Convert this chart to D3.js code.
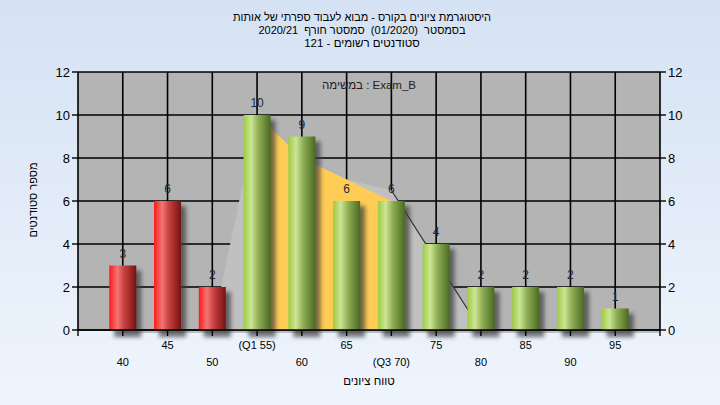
<!DOCTYPE html>
<html><head><meta charset="utf-8">
<script src="https://cdn.jsdelivr.net/npm/d3@7"></script>
<style>
html,body{margin:0;padding:0;}
svg{display:block;font-family:"Liberation Sans","DejaVu Sans",Arial,sans-serif;}
text{white-space:pre;}
</style></head>
<body>
<svg id="c" width="720" height="405"></svg>
<script>
// ---- data ----
const categories = [40,45,50,55,60,65,70,75,80,85,90,95];
const counts = [3,6,2,10,9,6,6,4,2,2,2,1];
const tickLabels = ["40","45","50","(Q1 55)","60","65","(Q3 70)","75","80","85","90","95"];
const q1 = 55, q3 = 70;
const iqrX = [55,60,65,70];
const iqrY = [10,8,7,6];
const spreadX = [50,55,60,65,70,80];
const spreadY = [0,10,8,7,6.5,0];
const yTicks = [0,2,4,6,8,10,12];
const gridX = [35,40,45,50,55,60,65,70,75,80,85,90,95,100];
const titleLines = ["היסטוגרמת ציונים בקורס - מבוא לעבוד ספרתי של אותות",
                    "בסמסטר  (01/2020)  סמסטר חורף  2020/21",
                    "סטודנטים רשומים - 121"];
const titleSizes = [11, 11, 11.5];
const taskLabel = "במשימה : Exam_B";
const xTitle = "טווח ציונים";
const yTitle = "מספר סטודנטים";

// ---- layout ----
const svg = d3.select("#c");
const L = 78, R = 660, T = 72, B = 330;
const x = d3.scaleLinear().domain([35,100]).range([L,R]);
const y = d3.scaleLinear().domain([0,12]).range([B,T]);
const bw = 27;

const defs = svg.append("defs");
const bg = defs.append("linearGradient").attr("id","bg").attr("x1",0).attr("y1",0).attr("x2",0).attr("y2",1);
bg.append("stop").attr("offset","0%").attr("stop-color","#d5e2f3");
bg.append("stop").attr("offset","100%").attr("stop-color","#eff5fd");
const red = defs.append("linearGradient").attr("id","red");
[["0%","#ff1818"],["30%","#f27676"],["55%","#c84040"],["100%","#761212"]].forEach(s=>red.append("stop").attr("offset",s[0]).attr("stop-color",s[1]));
const green = defs.append("linearGradient").attr("id","green");
[["0%","#9ccc42"],["28%","#cde594"],["55%","#8fae55"],["100%","#4a6a22"]].forEach(s=>green.append("stop").attr("offset",s[0]).attr("stop-color",s[1]));
const f = defs.append("filter").attr("id","blur").attr("x","-30%").attr("y","-30%").attr("width","160%").attr("height","160%");
f.append("feGaussianBlur").attr("stdDeviation",2);

svg.append("rect").attr("width",720).attr("height",405).attr("fill","url(#bg)");
svg.append("rect").attr("x",L).attr("y",T).attr("width",R-L).attr("height",B-T).attr("fill","#b4b4b4");

// grid
svg.append("g").selectAll("line").data(yTicks).join("line")
  .attr("x1",L).attr("x2",R).attr("y1",d=>y(d)).attr("y2",d=>y(d))
  .attr("stroke","#000").attr("stroke-width",1.6);
svg.append("g").selectAll("line").data(gridX).join("line")
  .attr("x1",d=>x(d)).attr("x2",d=>x(d)).attr("y1",T).attr("y2",B)
  .attr("stroke","#000").attr("stroke-width",1.6);

// spread area (light) and IQR area (yellow)
const spread = spreadX.map((v,i)=>[v,spreadY[i]]);
svg.append("path").datum(spread)
  .attr("d",d3.area().x(d=>x(d[0])).y0(y(0)).y1(d=>y(d[1])))
  .attr("fill","#c0c0c0");
svg.append("path").datum(spread.slice(-2))
  .attr("d",d3.line().x(d=>x(d[0])).y(d=>y(d[1])))
  .attr("stroke","#333").attr("stroke-width",1.2).attr("fill","none");
const iqr = iqrX.map((v,i)=>[v,iqrY[i]]);
svg.append("path").datum(iqr)
  .attr("d",d3.area().x(d=>x(d[0])).y0(y(0)).y1(d=>y(d[1])))
  .attr("fill","#ffcc55");

// baseline shadow line
svg.append("line").attr("x1",x(40)).attr("x2",R).attr("y1",B+2).attr("y2",B+2).attr("stroke","#8a8a8a").attr("stroke-width",1);

// bar shadows
svg.append("g").selectAll("rect").data(counts).join("rect")
  .attr("x",(d,i)=>x(categories[i])-bw/2+5).attr("y",d=>y(d)+5)
  .attr("width",bw).attr("height",d=>B-y(d)+2)
  .attr("fill","#3a3a3a").attr("opacity",0.7).attr("filter","url(#blur)");
// bars
svg.append("g").selectAll("rect").data(counts).join("rect")
  .attr("x",(d,i)=>x(categories[i])-bw/2).attr("y",d=>y(d))
  .attr("width",bw).attr("height",d=>B-y(d))
  .attr("fill",(d,i)=>categories[i]<q1?"url(#red)":"url(#green)");
// value labels
svg.append("g").selectAll("text").data(counts).join("text")
  .attr("x",(d,i)=>x(categories[i])).attr("y",d=>y(d)-8)
  .attr("text-anchor","middle").attr("font-size",12).attr("fill","#1e2a40")
  .text(d=>d);

// axes lines
svg.append("line").attr("x1",L).attr("x2",R).attr("y1",B).attr("y2",B).attr("stroke","#000").attr("stroke-width",1.6);
// bottom ticks
svg.append("g").selectAll("line").data(gridX).join("line")
  .attr("x1",d=>x(d)).attr("x2",d=>x(d)).attr("y1",B).attr("y2",B+6)
  .attr("stroke","#000").attr("stroke-width",1.4);
// left axis ticks + labels
svg.append("g").selectAll("line").data(yTicks).join("line")
  .attr("x1",L-6).attr("x2",L).attr("y1",d=>y(d)).attr("y2",d=>y(d)).attr("stroke","#000").attr("stroke-width",1.4);
svg.append("g").selectAll("text").data(yTicks).join("text")
  .attr("x",L-8).attr("y",d=>y(d)+5).attr("text-anchor","end").attr("font-size",13).attr("fill","#000").text(d=>d);
// right axis ticks + labels
svg.append("g").selectAll("line").data(yTicks).join("line")
  .attr("x1",R).attr("x2",R+6).attr("y1",d=>y(d)).attr("y2",d=>y(d)).attr("stroke","#000").attr("stroke-width",1.4);
svg.append("g").selectAll("text").data(yTicks).join("text")
  .attr("x",R+8).attr("y",d=>y(d)+5).attr("text-anchor","start").attr("font-size",13).attr("fill","#000").text(d=>d);

// category labels (staggered)
svg.append("g").selectAll("text").data(tickLabels).join("text")
  .attr("x",(d,i)=>x(categories[i])).attr("y",(d,i)=>i%2===1?349:366)
  .attr("text-anchor","middle").attr("font-size",11).attr("fill","#000").text(d=>d);

// titles
svg.append("g").selectAll("text").data(titleLines).join("text")
  .attr("x",362).attr("y",(d,i)=>21+i*13).attr("text-anchor","middle")
  .attr("font-size",(d,i)=>titleSizes[i]).attr("fill","#000").text(d=>d);
svg.append("text").attr("x",369).attr("y",89).attr("text-anchor","middle")
  .attr("font-size",11.5).attr("fill","#202020").text(taskLabel);
svg.append("text").attr("x",369).attr("y",385).attr("text-anchor","middle")
  .attr("font-size",11.5).attr("fill","#000").text(xTitle);
svg.append("text").attr("transform","translate(37,200) rotate(-90)").attr("text-anchor","middle")
  .attr("font-size",11).attr("fill","#000").text(yTitle);
</script>
</body></html>
